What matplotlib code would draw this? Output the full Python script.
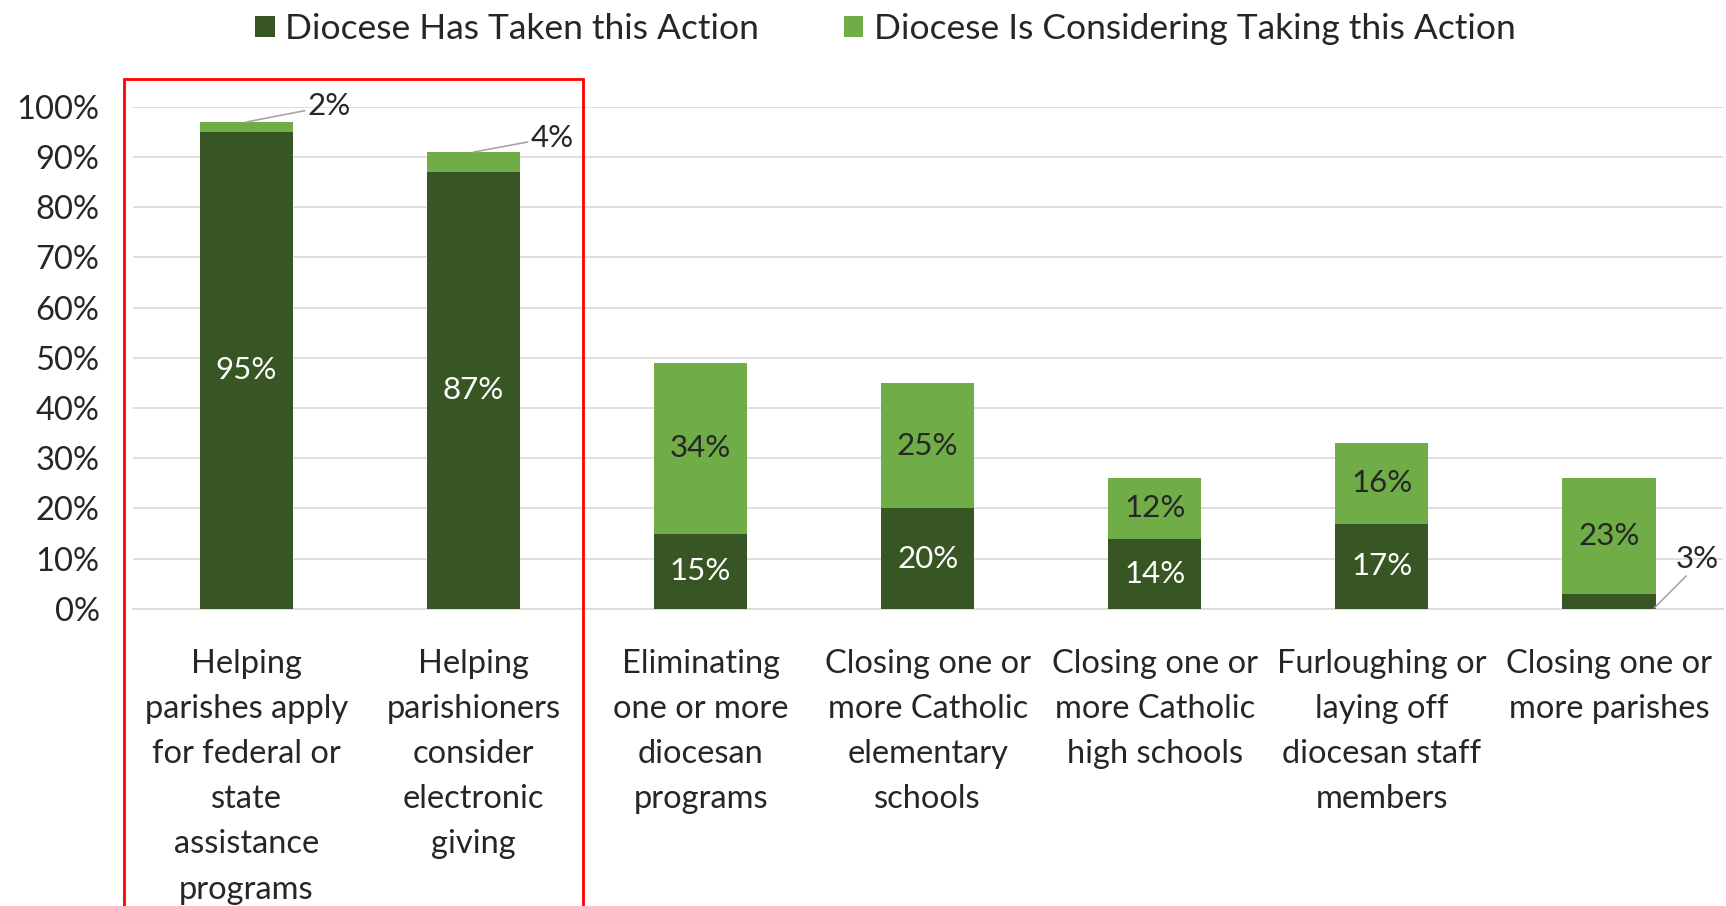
import matplotlib.pyplot as plt
from matplotlib.patches import Rectangle
from matplotlib.ticker import MultipleLocator, PercentFormatter

plt.rcParams["font.family"] = ["Lato", "DejaVu Sans"]

categories = [
    "Helping\nparishes apply\nfor federal or\nstate\nassistance\nprograms",
    "Helping\nparishioners\nconsider\nelectronic\ngiving",
    "Eliminating\none or more\ndiocesan\nprograms",
    "Closing one or\nmore Catholic\nelementary\nschools",
    "Closing one or\nmore Catholic\nhigh schools",
    "Furloughing or\nlaying off\ndiocesan staff\nmembers",
    "Closing one or\nmore parishes",
]
taken = [95, 87, 15, 20, 14, 17, 3]
considering = [2, 4, 34, 25, 12, 16, 23]

series_names = ["Diocese Has Taken this Action", "Diocese Is Considering Taking this Action"]
dark_green = "#375623"
light_green = "#70AD47"
text_color = "#262626"
fs = 23.5

fig = plt.figure(figsize=(17.26, 9.06), dpi=100)
ax = fig.add_axes([0.077, 0.328, 0.921, 0.554])

x = list(range(len(categories)))
width = 0.41
b1 = ax.bar(x, taken, width, color=dark_green, label=series_names[0], zorder=3)
b2 = ax.bar(x, considering, width, bottom=taken, color=light_green,
            label=series_names[1], zorder=3)

# segment labels inside the bars
for i, (t, c) in enumerate(zip(taken, considering)):
    if t >= 10:
        ax.text(i, t / 2, f"{t}%", ha="center", va="center", color="white",
                fontsize=fs - 1, zorder=4)
    if c >= 10:
        ax.text(i, t + c / 2, f"{c}%", ha="center", va="center", color=text_color,
                fontsize=fs - 1, zorder=4)

# small segments get a leader line to an outside label
leader = dict(arrowstyle="-", color="#a6a6a6", lw=1.2, shrinkA=0, shrinkB=0)
ax.annotate(f"{considering[0]}%", xy=(0.0, taken[0] + considering[0]),
            xytext=(0.27, 100.2), ha="left", va="center", fontsize=fs - 1,
            color=text_color, arrowprops=leader, zorder=5)
ax.annotate(f"{considering[1]}%", xy=(1.0, taken[1] + considering[1]),
            xytext=(1.25, 93.9), ha="left", va="center", fontsize=fs - 1,
            color=text_color, arrowprops=leader, zorder=5)
ax.annotate(f"{taken[6]}%", xy=(6.2, 0.2), xytext=(6.39, 9.9),
            ha="center", va="center", fontsize=fs - 1, color=text_color, zorder=5,
            arrowprops=dict(leader, relpos=(0.3, 0.0)))

ax.set_xlim(-0.5, len(categories) - 0.5)
ax.set_ylim(0, 100)
ax.yaxis.set_major_locator(MultipleLocator(10))
ax.yaxis.set_major_formatter(PercentFormatter(decimals=0))
ax.grid(axis="y", color="#d9d9d9", lw=1.2, zorder=0)
ax.set_axisbelow(True)
for side in ["top", "right", "left"]:
    ax.spines[side].set_visible(False)
ax.spines["bottom"].set_color("#d9d9d9")
ax.spines["bottom"].set_linewidth(1.2)
ax.tick_params(axis="y", length=0, pad=24, labelsize=fs, labelcolor=text_color)
ax.tick_params(axis="x", length=0, labelbottom=False)

for i, label in enumerate(categories):
    ax.text(i, -8.0, label, ha="center", va="top", fontsize=fs,
            color=text_color, linespacing=1.63)

fig.legend(handles=[b1, b2], loc="center", bbox_to_anchor=(0.513, 0.968), ncol=2,
           frameon=False, fontsize=25.5, handlelength=0.55, handleheight=0.55,
           handletextpad=0.3, columnspacing=2.4, labelcolor=text_color)

# highlight box around the first two categories
fig.patches.append(Rectangle((0.0718, -0.05), 0.266, 0.963, transform=fig.transFigure,
                             fill=False, edgecolor="#ff0000", lw=2, zorder=10))

fig.savefig("out.png", dpi=100)
